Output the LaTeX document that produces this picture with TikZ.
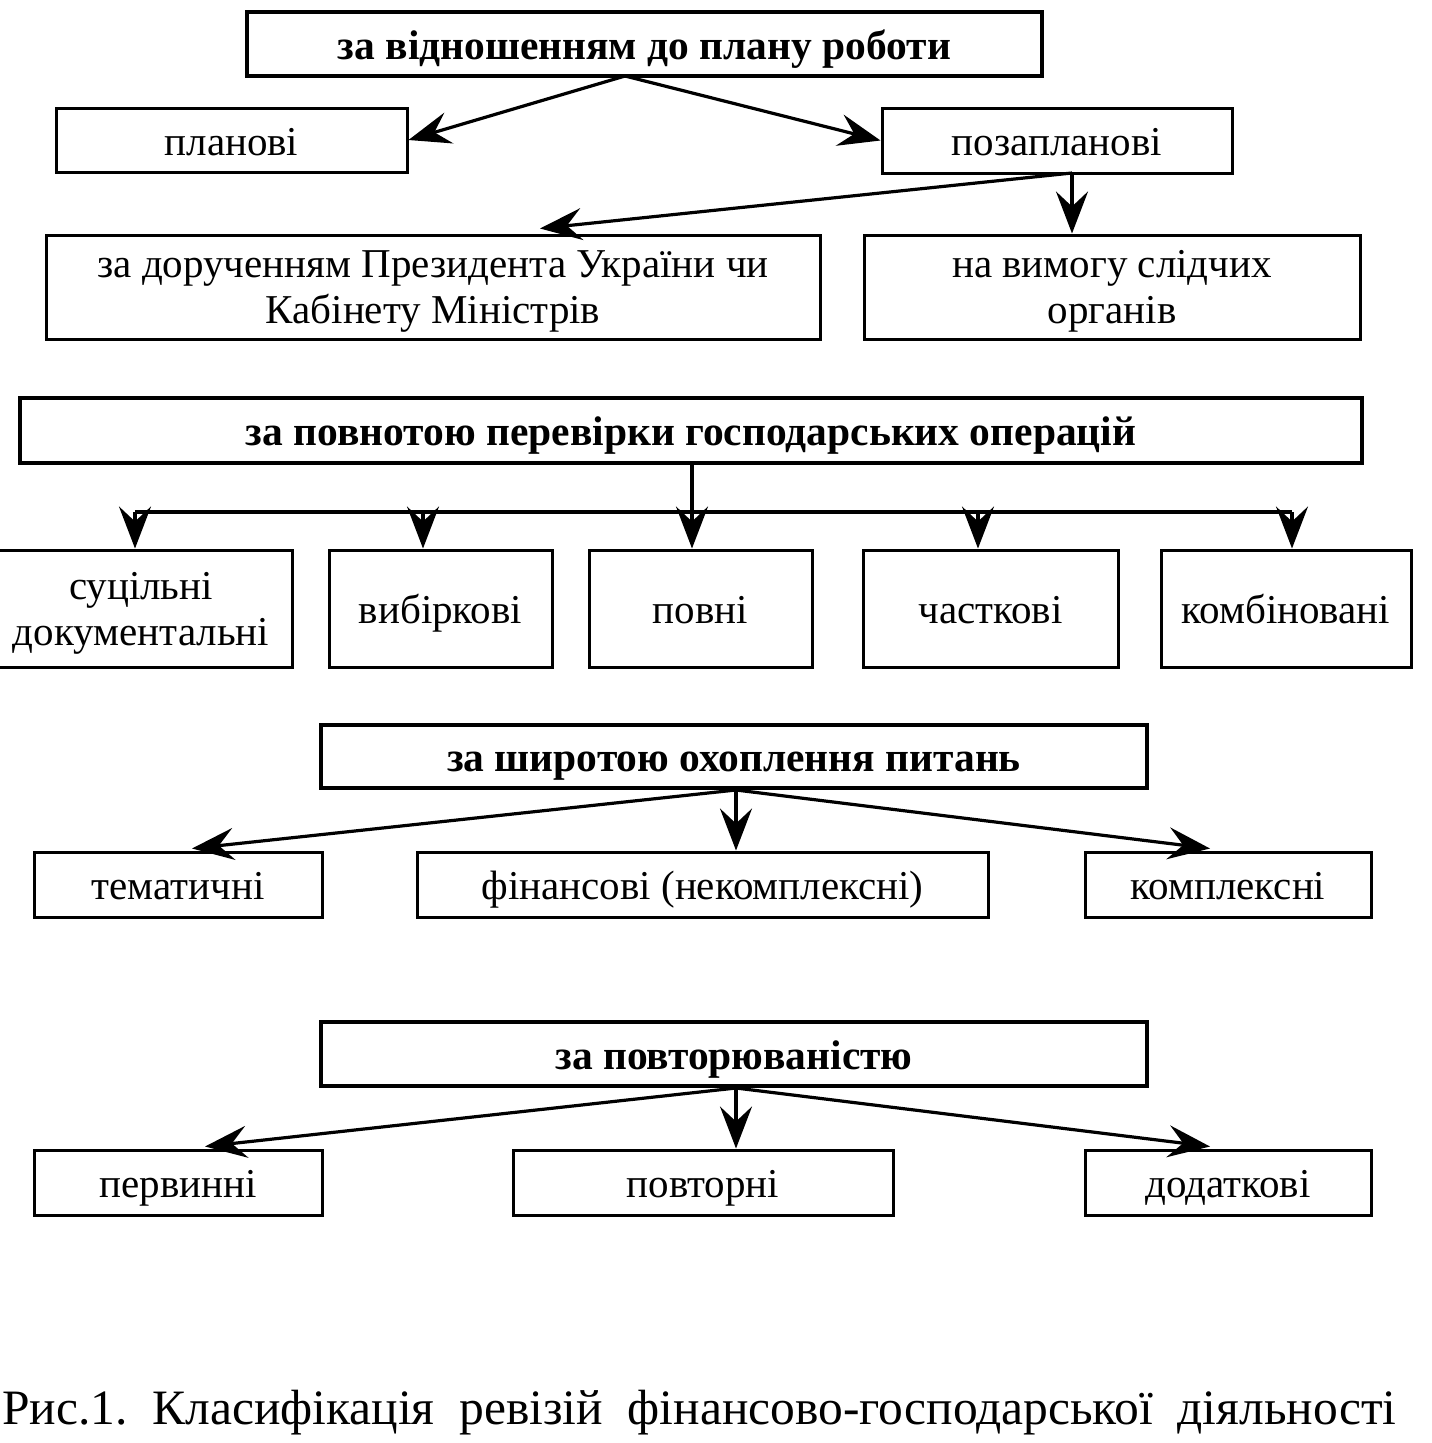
\documentclass[tikz,border=0pt]{standalone}
\usepackage{fontspec}
\setmainfont{Liberation Serif}
\usetikzlibrary{positioning,calc}
\usetikzlibrary{arrows.meta}
\newcommand\boxtop{\rule{0pt}{42.4pt}}
\newcommand\boxbot{\rule[-12pt]{0pt}{12pt}}
\newcommand\firstline{\rule{0pt}{39pt}}
\tikzset{
  box/.style={draw=black,line width=3pt,fill=white,inner sep=0pt,align=center,
    font=\fontsize{41}{46}\selectfont,
    execute at begin node=\boxtop,execute at end node=\boxbot},
  headbox/.style={box,line width=4.8pt,font=\fontsize{41.5}{46}\selectfont\bfseries},
  arr/.style={draw=black,line width=3.2pt,-{Stealth[length=42pt,width=32pt,inset=15pt]}},
  link/.style={draw=black,line width=3.2pt},
}

\begin{document}
\begin{tikzpicture}[x=1pt,y=-1pt]
\useasboundingbox (0,0) rectangle (1432,1443);
% за відношенням до плану роботи
\node[headbox,minimum width=795,minimum height=64] (plan) at (644.5,44) {за відношенням до плану роботи};
\node[box,minimum width=351,minimum height=64] (planovi) at (231.5,140) {планові};
\node[box,minimum width=350,minimum height=65] (pozap) at (1057,140.5) {позапланові};
\node[box,minimum width=774,minimum height=104] (doruch) at (433,287) {\firstline за дорученням Президента України чи\\Кабінету Міністрів};
\node[box,minimum width=496,minimum height=104] (vymoga) at (1112,287) {\firstline на вимогу слідчих\\органів};
\coordinate (planfork) at (625,76);
\coordinate (pozapfork) at (1072,173);
\draw[arr] (planfork) -- (planovi.east);
\draw[arr] (planfork) -- (pozap.west);
\draw[arr] (pozapfork) -- ($(doruch.north)+(107,-5)$);
\draw[arr] (pozapfork) -- (pozapfork |- vymoga.north);
% за повнотою перевірки
\node[headbox,minimum width=1342,minimum height=65] (povnota) at (691,430.5) {за повнотою перевірки господарських операцій};
\node[box,minimum width=302,minimum height=117] (sucil) at (141,608.5) {\firstline суцільні\\документальні};
\node[box,minimum width=223,minimum height=117] (vybir) at (440.5,608.5) {вибіркові};
\node[box,minimum width=223,minimum height=117] (povni) at (700.5,608.5) {повні};
\node[box,minimum width=255,minimum height=117] (chast) at (990.5,608.5) {часткові};
\node[box,minimum width=250,minimum height=117] (kombin) at (1286,608.5) {комбіновані};
\coordinate (povfork) at (692,512);
\draw[link] (povnota.south -| povfork) -- (povfork);
\draw[link] (135,512) coordinate (brl) -- (1292,512) coordinate (brr);
\foreach \xx/\nn in {135/sucil,423/vybir,692/povni,978/chast,1292/kombin}{
  \coordinate (br\nn) at (\xx,512);
  \draw[arr] (br\nn) -- (br\nn |- \nn.north);
}
% за широтою охоплення питань
\node[headbox,minimum width=826,minimum height=63] (shyr) at (734,756.5) {за широтою охоплення питань};
\node[box,minimum width=288,minimum height=65] (temat) at (178,884.5) {тематичні};
\node[box,minimum width=571,minimum height=65] (finan) at (702.5,884.5) {фінансові (некомплексні)};
\node[box,minimum width=286,minimum height=65] (kompl) at (1228,884.5) {комплексні};
\coordinate (shyrfork) at (736,790);
\draw[arr] (shyrfork) -- ($(temat.north)+(14,-2)$);
\draw[arr] (shyrfork) -- (shyrfork |- finan.north);
\draw[arr] (shyrfork) -- ($(kompl.north)+(-18,-2)$);
% за повторюваністю
\node[headbox,minimum width=826,minimum height=64] (povtor) at (734,1054) {за повторюваністю};
\node[box,minimum width=288,minimum height=65] (pervyn) at (178,1182.5) {первинні};
\node[box,minimum width=380,minimum height=65] (povtorni) at (703,1182.5) {повторні};
\node[box,minimum width=286,minimum height=65] (dodat) at (1228,1182.5) {додаткові};
\coordinate (povtorfork) at (736,1088);
\draw[arr] (povtorfork) -- ($(pervyn.north)+(27,-2)$);
\draw[arr] (povtorfork) -- (povtorfork |- povtorni.north);
\draw[arr] (povtorfork) -- ($(dodat.north)+(-18,-2)$);
% підпис
\node[anchor=base west,inner sep=0pt,font=\fontsize{49.5}{56}\selectfont] (caption) at (2,1424) {Рис.1.\ \ Класифікація\ \ ревізій\ \ фінансово-господарської\ \ діяльності};
\end{tikzpicture}
\end{document}
